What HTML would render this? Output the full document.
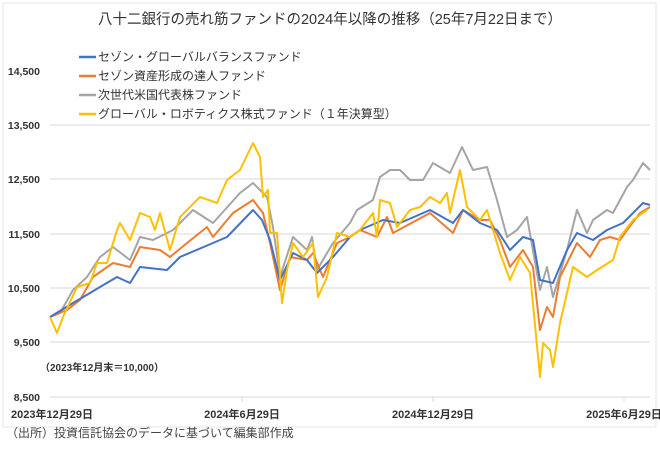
<!DOCTYPE html>
<html><head><meta charset="utf-8"><style>
body{margin:0;background:#fff;width:660px;height:450px;overflow:hidden}
svg text{font-family:"Liberation Sans","Noto Sans CJK JP",sans-serif}
</style></head><body>
<svg width="660" height="450" viewBox="0 0 660 450" xmlns="http://www.w3.org/2000/svg">
<rect x="0" y="0" width="660" height="450" fill="#fff"/>
<rect x="3" y="3" width="653" height="424" fill="none" stroke="#e6e6e6" stroke-width="1"/>
<text x="330" y="24" font-size="14.5" text-anchor="middle" fill="#333">八十二銀行の売れ筋ファンドの2024年以降の推移（25年7月22日まで）</text>
<g stroke="#d9d9d9" stroke-width="1">
<line x1="50" y1="125" x2="650" y2="125"/>
<line x1="50" y1="179" x2="650" y2="179"/>
<line x1="50" y1="234" x2="650" y2="234"/>
<line x1="50" y1="288" x2="650" y2="288"/>
<line x1="50" y1="342" x2="650" y2="342"/>
<line x1="50" y1="397" x2="650" y2="397"/>
<line x1="242" y1="397" x2="242" y2="402"/>
<line x1="433" y1="397" x2="433" y2="402"/>
<line x1="624" y1="397" x2="624" y2="402"/>
</g>
<g font-size="10.5" fill="#333" font-weight="bold" text-anchor="end">
<text x="40" y="75">14,500</text>
<text x="40" y="129">13,500</text>
<text x="40" y="183">12,500</text>
<text x="40" y="238">11,500</text>
<text x="40" y="292">10,500</text>
<text x="40" y="346">9,500</text>
<text x="40" y="401">8,500</text>
</g>
<g font-size="11" fill="#333" font-weight="bold" text-anchor="middle">
<text x="52" y="418">2023年12月29日</text>
<text x="242" y="418">2024年6月29日</text>
<text x="433" y="418">2024年12月29日</text>
<text x="624" y="418">2025年6月29日</text>
</g>
<text x="40" y="371" font-size="10" font-weight="bold" fill="#333">（2023年12月末＝10,000）</text>
<text x="6" y="437" font-size="12" fill="#444">（出所）投資信託協会のデータに基づいて編集部作成</text>
<g font-size="12" fill="#333">
<line x1="79" y1="57" x2="96" y2="57" stroke="#4472c4" stroke-width="2.5"/><text x="98" y="61">セゾン・グローバルバランスファンド</text>
<line x1="79" y1="76" x2="96" y2="76" stroke="#ed7d31" stroke-width="2.5"/><text x="98" y="80">セゾン資産形成の達人ファンド</text>
<line x1="79" y1="95" x2="96" y2="95" stroke="#a5a5a5" stroke-width="2.5"/><text x="98" y="99">次世代米国代表株ファンド</text>
<line x1="79" y1="114" x2="96" y2="114" stroke="#ffc000" stroke-width="2.5"/><text x="98" y="118">グローバル・ロボティクス株式ファンド（１年決算型）</text>
</g>
<g fill="none" stroke-width="2" stroke-linejoin="round">
<polyline stroke="#a5a5a5" points="50,317 60,313 73,290 87,277 100,257 113,247 130,260 140,237 153,240 173,230 193,210 213,223 240,193 253,183 267,197 273,227 280,277 293,237 307,250 312,237 317,270 333,243 350,223 357,210 373,200 380,177 390,170 400,170 410,180 423,180 433,163 450,173 462,147 473,170 487,167 497,200 507,237 517,230 527,217 540,290 547,267 553,297 567,250 577,210 587,233 593,220 607,210 613,213 627,187 633,180 643,163 650,170"/>
<polyline stroke="#ed7d31" points="50,317 67,310 80,300 93,277 113,263 130,267 140,247 160,250 170,257 187,243 207,227 213,237 233,213 253,200 263,213 270,243 280,290 290,257 307,260 313,253 323,277 337,243 350,237 360,230 377,237 387,217 393,233 417,220 430,213 453,233 463,210 480,220 490,220 500,240 510,267 523,250 533,267 540,330 547,307 553,317 560,277 577,243 590,257 600,240 610,237 620,240 627,230 640,213 650,207"/>
<polyline stroke="#4472c4" points="50,317 73,303 90,293 100,287 117,277 130,283 140,267 167,270 180,257 213,243 227,237 253,210 262,220 270,240 280,280 293,253 307,260 317,273 333,257 350,237 360,230 383,220 400,223 430,210 453,223 463,210 480,223 497,230 510,250 523,237 533,240 540,280 553,283 567,250 577,233 593,240 607,230 623,223 643,203 650,205"/>
<polyline stroke="#ffc000" points="50,317 57,333 63,317 77,287 90,283 97,263 107,263 117,230 120,223 130,240 140,213 150,217 155,230 160,213 170,250 180,217 200,197 217,203 227,180 240,170 253,143 260,157 263,197 268,190 270,233 277,233 282,303 287,270 293,243 303,257 313,243 318,297 327,277 337,233 350,237 360,230 373,213 377,237 380,200 390,203 397,227 410,210 420,207 430,197 440,203 447,193 450,213 460,170 467,207 480,220 487,210 493,230 500,253 510,280 520,257 530,273 540,377 543,343 550,350 553,367 560,323 573,267 587,277 597,270 613,260 620,237 633,220 647,210"/>
</g>
</svg>
</body></html>
